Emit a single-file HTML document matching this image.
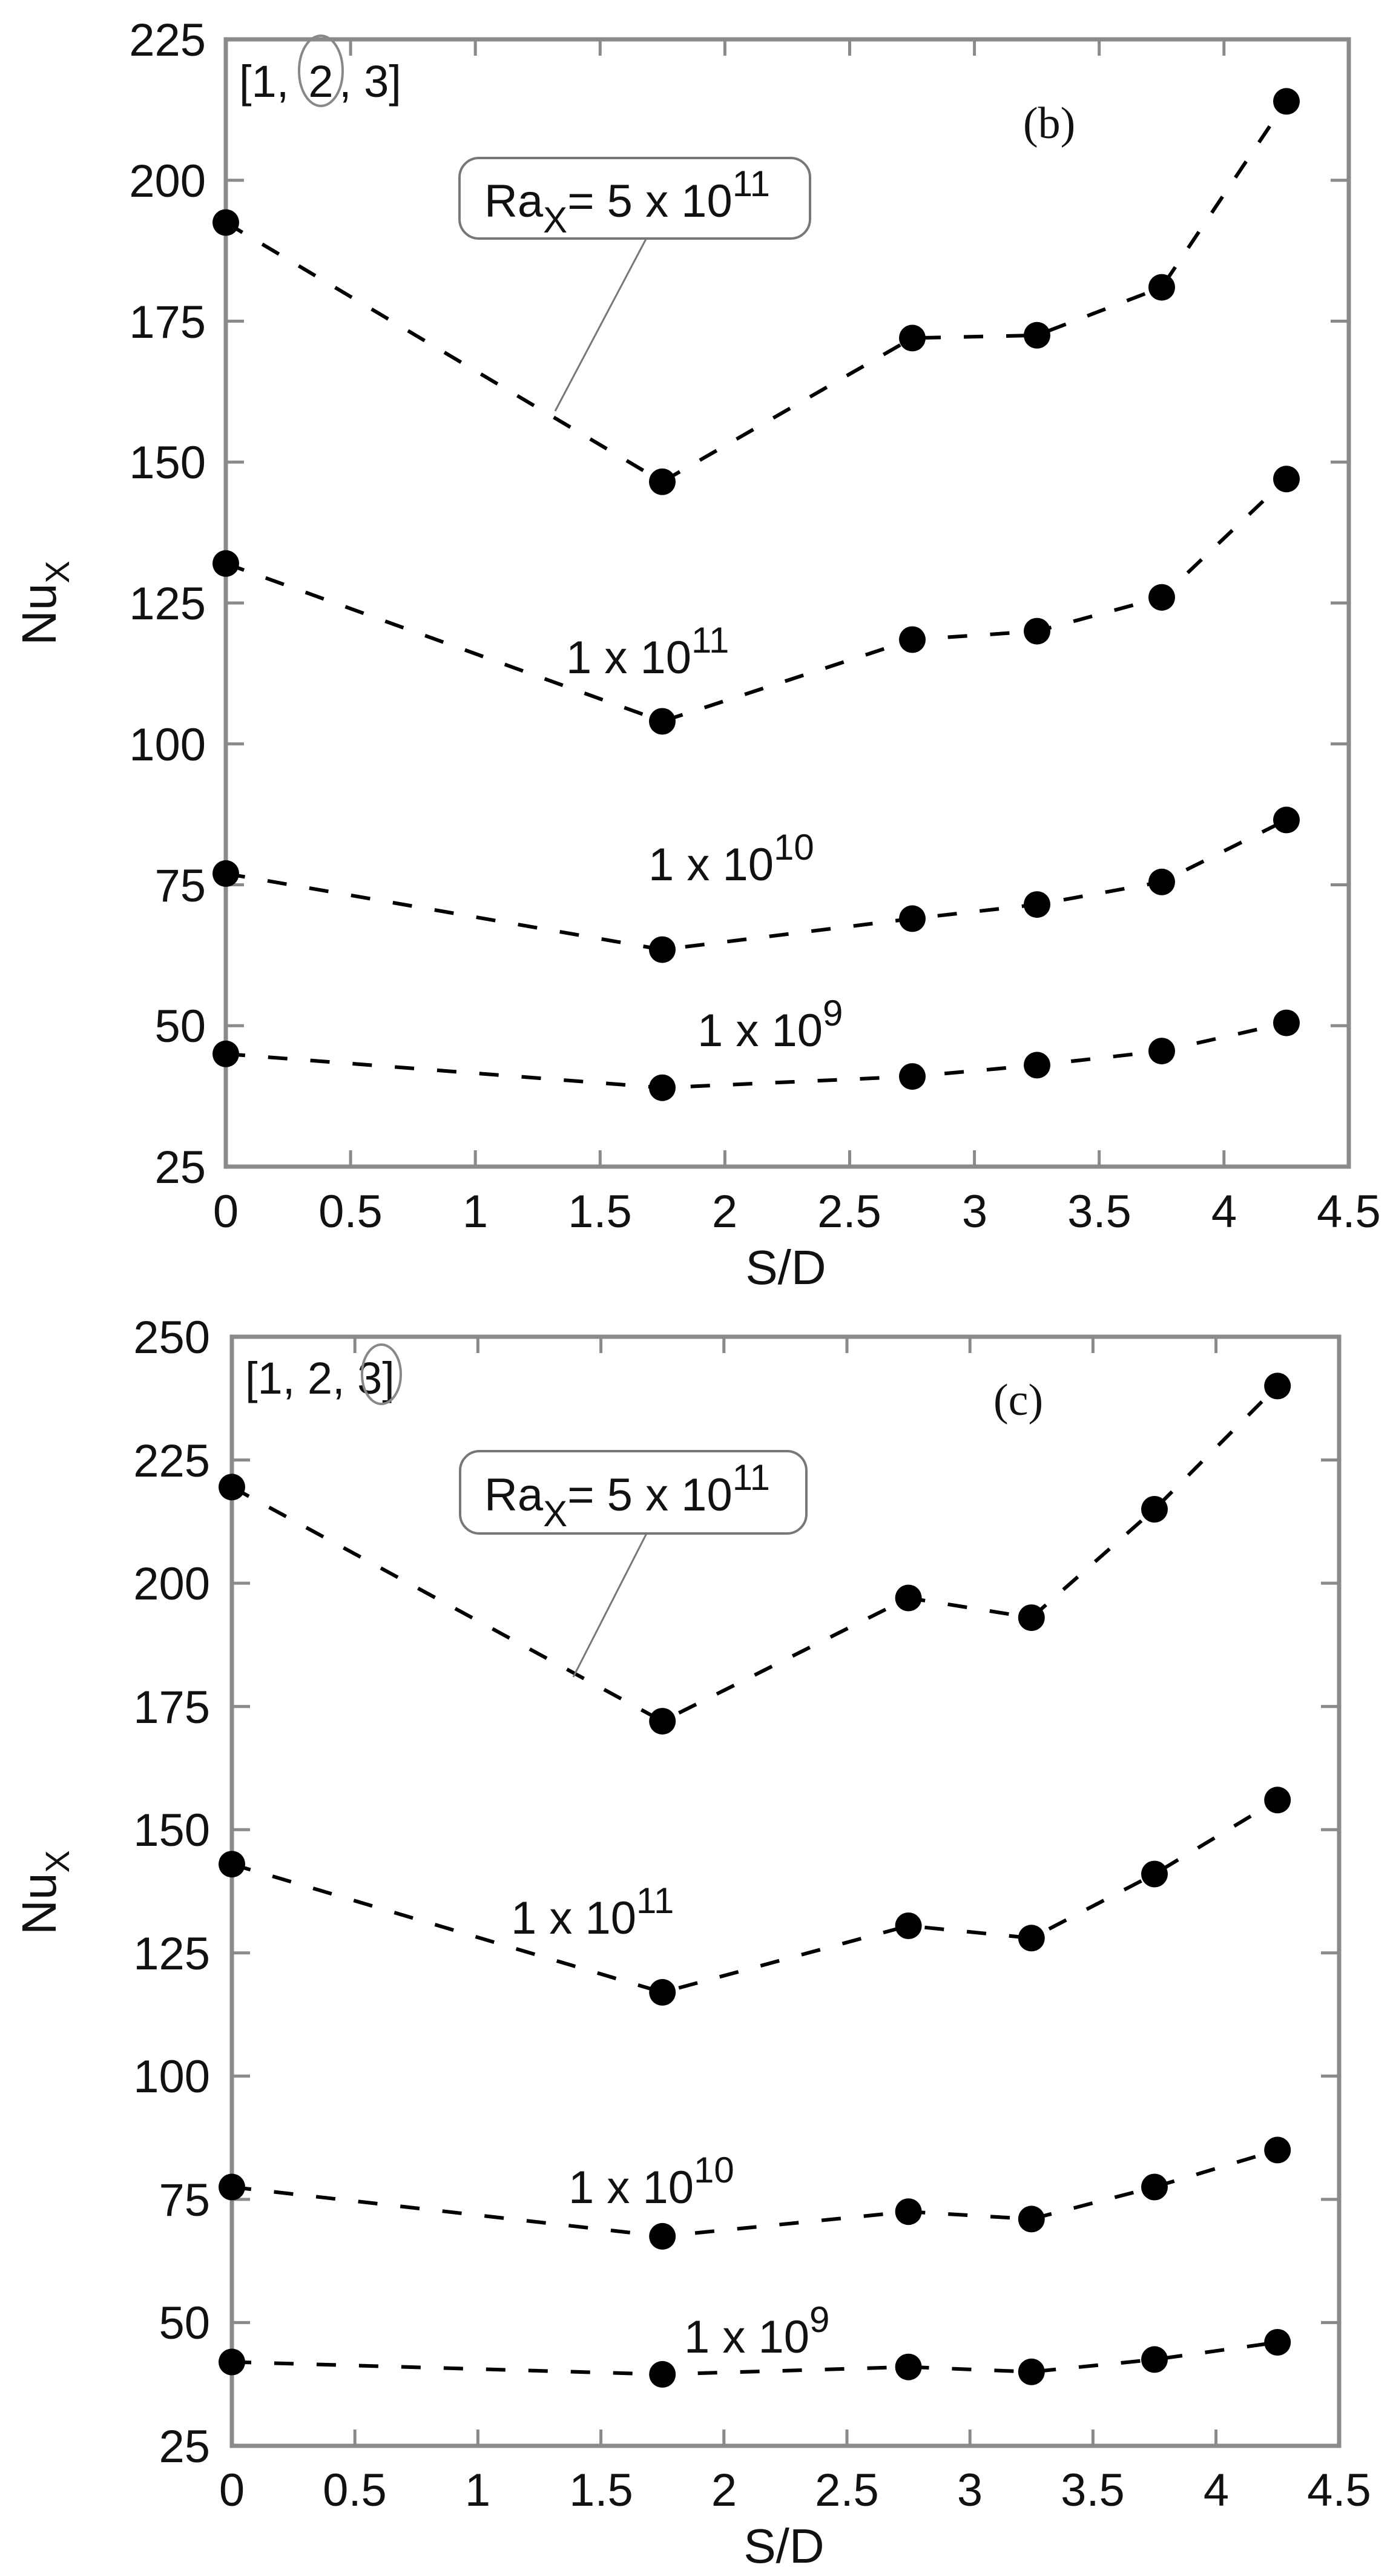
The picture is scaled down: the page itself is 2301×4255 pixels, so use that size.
<!DOCTYPE html>
<html><head><meta charset="utf-8"><style>
html,body{margin:0;padding:0;background:#fff;}
svg{display:block;}
text{font-family:"Liberation Sans",sans-serif;fill:#111;}
</style></head><body>
<svg width="2301" height="4255" viewBox="0 0 2301 4255" xmlns="http://www.w3.org/2000/svg">
<rect width="2301" height="4255" fill="#fff"/>

<!-- ================= PANEL B ================= -->
<g stroke="#8a8a8a" stroke-width="7" fill="none">
<rect x="373" y="65" width="1855" height="1862"/>
</g>
<g stroke="#8a8a8a" stroke-width="5">
<line x1="373" y1="297.75" x2="403" y2="297.75"/><line x1="2228" y1="297.75" x2="2198" y2="297.75"/>
<line x1="373" y1="530.5" x2="403" y2="530.5"/><line x1="2228" y1="530.5" x2="2198" y2="530.5"/>
<line x1="373" y1="763.25" x2="403" y2="763.25"/><line x1="2228" y1="763.25" x2="2198" y2="763.25"/>
<line x1="373" y1="996" x2="403" y2="996"/><line x1="2228" y1="996" x2="2198" y2="996"/>
<line x1="373" y1="1228.75" x2="403" y2="1228.75"/><line x1="2228" y1="1228.75" x2="2198" y2="1228.75"/>
<line x1="373" y1="1461.5" x2="403" y2="1461.5"/><line x1="2228" y1="1461.5" x2="2198" y2="1461.5"/>
<line x1="373" y1="1694.25" x2="403" y2="1694.25"/><line x1="2228" y1="1694.25" x2="2198" y2="1694.25"/>
<line x1="579.1" y1="1927" x2="579.1" y2="1900"/><line x1="579.1" y1="65" x2="579.1" y2="92"/>
<line x1="785.2" y1="1927" x2="785.2" y2="1900"/><line x1="785.2" y1="65" x2="785.2" y2="92"/>
<line x1="991.3" y1="1927" x2="991.3" y2="1900"/><line x1="991.3" y1="65" x2="991.3" y2="92"/>
<line x1="1197.4" y1="1927" x2="1197.4" y2="1900"/><line x1="1197.4" y1="65" x2="1197.4" y2="92"/>
<line x1="1403.5" y1="1927" x2="1403.5" y2="1900"/><line x1="1403.5" y1="65" x2="1403.5" y2="92"/>
<line x1="1609.6" y1="1927" x2="1609.6" y2="1900"/><line x1="1609.6" y1="65" x2="1609.6" y2="92"/>
<line x1="1815.7" y1="1927" x2="1815.7" y2="1900"/><line x1="1815.7" y1="65" x2="1815.7" y2="92"/>
<line x1="2021.8" y1="1927" x2="2021.8" y2="1900"/><line x1="2021.8" y1="65" x2="2021.8" y2="92"/>
</g>
<g font-size="76" text-anchor="end">
<text x="340" y="92">225</text>
<text x="340" y="325">200</text>
<text x="340" y="558">175</text>
<text x="340" y="790">150</text>
<text x="340" y="1023">125</text>
<text x="340" y="1256">100</text>
<text x="340" y="1489">75</text>
<text x="340" y="1721">50</text>
<text x="340" y="1954">25</text>
</g>
<g font-size="76" text-anchor="middle">
<text x="373" y="2027">0</text>
<text x="579" y="2027">0.5</text>
<text x="785" y="2027">1</text>
<text x="991" y="2027">1.5</text>
<text x="1197" y="2027">2</text>
<text x="1403" y="2027">2.5</text>
<text x="1610" y="2027">3</text>
<text x="1816" y="2027">3.5</text>
<text x="2022" y="2027">4</text>
<text x="2228" y="2027">4.5</text>
</g>
<text x="1298" y="2121" font-size="80" text-anchor="middle">S/D</text>
<text transform="translate(92,996) rotate(-90)" font-size="80" text-anchor="middle">Nu<tspan font-size="56" dy="22">X</tspan></text>

<g fill="none" stroke="#000" stroke-width="6" stroke-dasharray="32 38">
<polyline points="373,367.6 1094,795.8 1507,558.4 1713,553.8 1919,474.6 2125,167.4"/>
<polyline points="373,930.8 1094,1191.5 1507,1056.5 1713,1042.6 1919,986.7 2125,791.2"/>
<polyline points="373,1442.9 1094,1568.6 1507,1517.4 1713,1494.1 1919,1456.8 2125,1354.4"/>
<polyline points="373,1740.8 1094,1796.7 1507,1778.1 1713,1759.4 1919,1736.1 2125,1689.6"/>
</g>
<g fill="#000">
<circle cx="373" cy="367.6" r="22"/><circle cx="1094" cy="795.8" r="22"/><circle cx="1507" cy="558.4" r="22"/><circle cx="1713" cy="553.8" r="22"/><circle cx="1919" cy="474.6" r="22"/><circle cx="2125" cy="167.4" r="22"/>
<circle cx="373" cy="930.8" r="22"/><circle cx="1094" cy="1191.5" r="22"/><circle cx="1507" cy="1056.5" r="22"/><circle cx="1713" cy="1042.6" r="22"/><circle cx="1919" cy="986.7" r="22"/><circle cx="2125" cy="791.2" r="22"/>
<circle cx="373" cy="1442.9" r="22"/><circle cx="1094" cy="1568.6" r="22"/><circle cx="1507" cy="1517.4" r="22"/><circle cx="1713" cy="1494.1" r="22"/><circle cx="1919" cy="1456.8" r="22"/><circle cx="2125" cy="1354.4" r="22"/>
<circle cx="373" cy="1740.8" r="22"/><circle cx="1094" cy="1796.7" r="22"/><circle cx="1507" cy="1778.1" r="22"/><circle cx="1713" cy="1759.4" r="22"/><circle cx="1919" cy="1736.1" r="22"/><circle cx="2125" cy="1689.6" r="22"/>
</g>
<text x="395" y="160" font-size="74">[1,</text>
<text x="530" y="160" font-size="74" text-anchor="middle">2</text>
<text x="560" y="160" font-size="74">, 3]</text>
<ellipse cx="530" cy="117" rx="36" ry="58" fill="none" stroke="#888" stroke-width="4"/>
<text x="1690" y="228" font-size="74" style="font-family:'Liberation Serif',serif">(b)</text>
<line x1="1067" y1="395" x2="917" y2="679" stroke="#777" stroke-width="3"/>
<rect x="759" y="261" width="579" height="133" rx="32" fill="#fff" stroke="#777" stroke-width="4"/>
<text x="800" y="358" font-size="76">Ra<tspan font-size="60" dy="26">X</tspan><tspan dy="-26">= 5 x 10</tspan><tspan font-size="60" dy="-34">11</tspan></text>
<text x="935" y="1112" font-size="76">1 x 10<tspan font-size="60" dy="-34">11</tspan></text>
<text x="1071" y="1454" font-size="76">1 x 10<tspan font-size="60" dy="-34">10</tspan></text>
<text x="1152" y="1728" font-size="76">1 x 10<tspan font-size="60" dy="-34">9</tspan></text>

<!-- ================= PANEL C ================= -->
<g stroke="#8a8a8a" stroke-width="7" fill="none">
<rect x="383" y="2208" width="1829" height="1832"/>
</g>
<g stroke="#8a8a8a" stroke-width="5">
<line x1="383" y1="2411.6" x2="413" y2="2411.6"/><line x1="2212" y1="2411.6" x2="2182" y2="2411.6"/>
<line x1="383" y1="2615.1" x2="413" y2="2615.1"/><line x1="2212" y1="2615.1" x2="2182" y2="2615.1"/>
<line x1="383" y1="2818.7" x2="413" y2="2818.7"/><line x1="2212" y1="2818.7" x2="2182" y2="2818.7"/>
<line x1="383" y1="3022.2" x2="413" y2="3022.2"/><line x1="2212" y1="3022.2" x2="2182" y2="3022.2"/>
<line x1="383" y1="3225.8" x2="413" y2="3225.8"/><line x1="2212" y1="3225.8" x2="2182" y2="3225.8"/>
<line x1="383" y1="3429.3" x2="413" y2="3429.3"/><line x1="2212" y1="3429.3" x2="2182" y2="3429.3"/>
<line x1="383" y1="3632.9" x2="413" y2="3632.9"/><line x1="2212" y1="3632.9" x2="2182" y2="3632.9"/>
<line x1="383" y1="3836.4" x2="413" y2="3836.4"/><line x1="2212" y1="3836.4" x2="2182" y2="3836.4"/>
<line x1="586.2" y1="4040" x2="586.2" y2="4013"/><line x1="586.2" y1="2208" x2="586.2" y2="2235"/>
<line x1="789.4" y1="4040" x2="789.4" y2="4013"/><line x1="789.4" y1="2208" x2="789.4" y2="2235"/>
<line x1="992.6" y1="4040" x2="992.6" y2="4013"/><line x1="992.6" y1="2208" x2="992.6" y2="2235"/>
<line x1="1195.8" y1="4040" x2="1195.8" y2="4013"/><line x1="1195.8" y1="2208" x2="1195.8" y2="2235"/>
<line x1="1399" y1="4040" x2="1399" y2="4013"/><line x1="1399" y1="2208" x2="1399" y2="2235"/>
<line x1="1602.2" y1="4040" x2="1602.2" y2="4013"/><line x1="1602.2" y1="2208" x2="1602.2" y2="2235"/>
<line x1="1805.4" y1="4040" x2="1805.4" y2="4013"/><line x1="1805.4" y1="2208" x2="1805.4" y2="2235"/>
<line x1="2008.6" y1="4040" x2="2008.6" y2="4013"/><line x1="2008.6" y1="2208" x2="2008.6" y2="2235"/>
</g>
<g font-size="76" text-anchor="end">
<text x="347" y="2235">250</text>
<text x="347" y="2439">225</text>
<text x="347" y="2642">200</text>
<text x="347" y="2846">175</text>
<text x="347" y="3049">150</text>
<text x="347" y="3253">125</text>
<text x="347" y="3456">100</text>
<text x="347" y="3660">75</text>
<text x="347" y="3863">50</text>
<text x="347" y="4067">25</text>
</g>
<g font-size="76" text-anchor="middle">
<text x="383" y="4139">0</text>
<text x="586" y="4139">0.5</text>
<text x="789" y="4139">1</text>
<text x="993" y="4139">1.5</text>
<text x="1196" y="4139">2</text>
<text x="1399" y="4139">2.5</text>
<text x="1602" y="4139">3</text>
<text x="1805" y="4139">3.5</text>
<text x="2009" y="4139">4</text>
<text x="2212" y="4139">4.5</text>
</g>
<text x="1295" y="4233" font-size="80" text-anchor="middle">S/D</text>
<text transform="translate(92,3126) rotate(-90)" font-size="80" text-anchor="middle">Nu<tspan font-size="56" dy="22">X</tspan></text>

<g fill="none" stroke="#000" stroke-width="6" stroke-dasharray="32 38">
<polyline points="383,2456.3 1094.2,2843.1 1500.6,2639.5 1703.8,2672.1 1907,2493 2110.2,2289.4"/>
<polyline points="383,3079.2 1094.2,3290.9 1500.6,3181 1703.8,3201.3 1907,3095.5 2110.2,2973.3"/>
<polyline points="383,3612.5 1094.2,3693.9 1500.6,3653.2 1703.8,3665.4 1907,3612.5 2110.2,3551.4"/>
<polyline points="383,3901.5 1094.2,3921.9 1500.6,3909.7 1703.8,3917.8 1907,3897.4 2110.2,3869"/>
</g>
<g fill="#000">
<circle cx="383" cy="2456.3" r="22"/><circle cx="1094.2" cy="2843.1" r="22"/><circle cx="1500.6" cy="2639.5" r="22"/><circle cx="1703.8" cy="2672.1" r="22"/><circle cx="1907" cy="2493" r="22"/><circle cx="2110.2" cy="2289.4" r="22"/>
<circle cx="383" cy="3079.2" r="22"/><circle cx="1094.2" cy="3290.9" r="22"/><circle cx="1500.6" cy="3181" r="22"/><circle cx="1703.8" cy="3201.3" r="22"/><circle cx="1907" cy="3095.5" r="22"/><circle cx="2110.2" cy="2973.3" r="22"/>
<circle cx="383" cy="3612.5" r="22"/><circle cx="1094.2" cy="3693.9" r="22"/><circle cx="1500.6" cy="3653.2" r="22"/><circle cx="1703.8" cy="3665.4" r="22"/><circle cx="1907" cy="3612.5" r="22"/><circle cx="2110.2" cy="3551.4" r="22"/>
<circle cx="383" cy="3901.5" r="22"/><circle cx="1094.2" cy="3921.9" r="22"/><circle cx="1500.6" cy="3909.7" r="22"/><circle cx="1703.8" cy="3917.8" r="22"/><circle cx="1907" cy="3897.4" r="22"/><circle cx="2110.2" cy="3869" r="22"/>
</g>
<text x="405" y="2302" font-size="74">[1, 2, 3]</text>
<ellipse cx="630" cy="2270" rx="32" ry="49" fill="none" stroke="#888" stroke-width="4"/>
<text x="1641" y="2337" font-size="74" style="font-family:'Liberation Serif',serif">(c)</text>
<line x1="1068" y1="2533" x2="947" y2="2770" stroke="#777" stroke-width="3"/>
<rect x="760" y="2397" width="572" height="136" rx="32" fill="#fff" stroke="#777" stroke-width="4"/>
<text x="800" y="2495" font-size="76">Ra<tspan font-size="60" dy="26">X</tspan><tspan dy="-26">= 5 x 10</tspan><tspan font-size="60" dy="-34">11</tspan></text>
<text x="844" y="3194" font-size="76">1 x 10<tspan font-size="60" dy="-34">11</tspan></text>
<text x="939" y="3639" font-size="76">1 x 10<tspan font-size="60" dy="-34">10</tspan></text>
<text x="1130" y="3886" font-size="76">1 x 10<tspan font-size="60" dy="-34">9</tspan></text>
</svg>
</body></html>
